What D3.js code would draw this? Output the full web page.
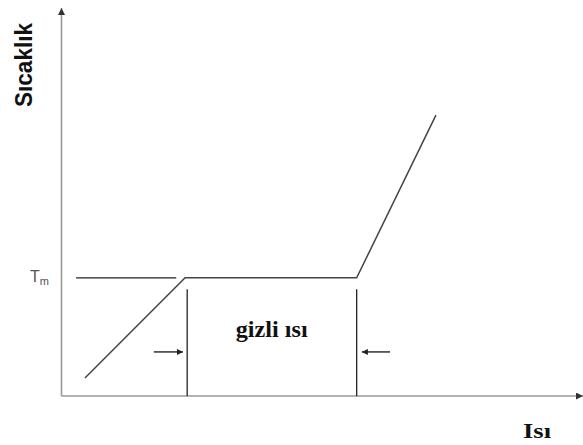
<!DOCTYPE html>
<html>
<head>
<meta charset="utf-8">
<script src="https://cdn.jsdelivr.net/npm/d3@7"></script>
<style>
  html, body { margin: 0; padding: 0; background: #fff; }
  svg { display: block; }
</style>
</head>
<body>
<svg id="chart" width="583" height="445"></svg>
<script>
// ---- data (abstract units: heat on x 0..100, temperature on y 0..100) ----
const curveHeat = [4.5, 23.7, 56.6, 71.8];
const curveTemp = [4.6, 30.3, 30.3, 72.0];
const tmLineHeat = [2.8, 22.0];
const tmValue = 30.3;
const latentBoundsHeat = [24.1, 56.6];
const latentLineTop = 27.4;
const arrowLeftHeat = [17.7, 23.3];
const arrowRightHeat = [63.0, 57.6];
const arrowTemp = 11.3;
const labels = { y: "Sıcaklık", x: "Isı", tm: "T", tmSub: "m", latent: "gizli ısı" };
const latentLabelPos = [40.3, 15.1];

const svg = d3.select("#chart");
const x = d3.scaleLinear().domain([0, 100]).range([61.5, 583]);
const y = d3.scaleLinear().domain([0, 100]).range([396, 6]);

const defs = svg.append("defs");
defs.append("marker").attr("id", "axisHead")
  .attr("viewBox", "0 0 10 10").attr("refX", 10).attr("refY", 5)
  .attr("markerUnits", "userSpaceOnUse").attr("markerWidth", 8).attr("markerHeight", 7)
  .attr("orient", "auto")
  .append("path").attr("d", "M0,0 L10,5 L0,10 Z").attr("fill", "#333");
defs.append("marker").attr("id", "smallHead")
  .attr("viewBox", "0 0 10 10").attr("refX", 10).attr("refY", 5)
  .attr("markerUnits", "userSpaceOnUse").attr("markerWidth", 9).attr("markerHeight", 6)
  .attr("orient", "auto")
  .append("path").attr("d", "M0,0 L10,5 L0,10 Z").attr("fill", "#222");

// axes
svg.append("line")
  .attr("x1", x(0)).attr("y1", y(0)).attr("x2", x(0)).attr("y2", y(100) + 2)
  .attr("stroke", "#999").attr("stroke-width", 1.6).attr("marker-end", "url(#axisHead)");
svg.append("line")
  .attr("x1", x(0)).attr("y1", y(0)).attr("x2", x(100)).attr("y2", y(0))
  .attr("stroke", "#999").attr("stroke-width", 1.6).attr("marker-end", "url(#axisHead)");

// Tm reference line
svg.append("line")
  .attr("x1", x(tmLineHeat[0])).attr("x2", x(tmLineHeat[1]))
  .attr("y1", y(tmValue)).attr("y2", y(tmValue))
  .attr("stroke", "#222").attr("stroke-width", 1.4);

// heating curve
const pts = curveHeat.map((h, i) => [h, curveTemp[i]]);
svg.append("path")
  .attr("d", d3.line().x(d => x(d[0])).y(d => y(d[1]))(pts))
  .attr("fill", "none").attr("stroke", "#444").attr("stroke-width", 1.5);

// latent heat bounds
latentBoundsHeat.forEach(h => {
  svg.append("line")
    .attr("x1", x(h)).attr("x2", x(h))
    .attr("y1", y(latentLineTop)).attr("y2", y(0))
    .attr("stroke", "#222").attr("stroke-width", 1.3);
});

// arrows
[arrowLeftHeat, arrowRightHeat].forEach(a => {
  svg.append("line")
    .attr("x1", x(a[0])).attr("x2", x(a[1]))
    .attr("y1", y(arrowTemp)).attr("y2", y(arrowTemp))
    .attr("stroke", "#222").attr("stroke-width", 1.4).attr("marker-end", "url(#smallHead)");
});

// labels
svg.append("text")
  .attr("transform", `translate(32,65) rotate(-90)`)
  .attr("text-anchor", "middle")
  .attr("font-family", "Liberation Sans, Arial, sans-serif")
  .attr("font-weight", "bold").attr("font-size", 23)
  .attr("textLength", 84).attr("lengthAdjust", "spacingAndGlyphs")
  .attr("fill", "#111")
  .text(labels.y);

svg.append("text")
  .attr("x", 537).attr("y", 438)
  .attr("text-anchor", "middle")
  .attr("font-family", "Liberation Serif, Times New Roman, serif")
  .attr("font-weight", "bold").attr("font-size", 20)
  .attr("textLength", 28).attr("lengthAdjust", "spacingAndGlyphs")
  .attr("fill", "#111")
  .text(labels.x);

const tm = svg.append("text")
  .attr("x", 30).attr("y", y(tmValue) + 4)
  .attr("font-family", "Liberation Sans, Arial, sans-serif")
  .attr("font-size", 16).attr("fill", "#555");
tm.append("tspan").text(labels.tm);
tm.append("tspan").attr("font-size", 11).attr("dy", 3).text(labels.tmSub);

svg.append("text")
  .attr("x", x(latentLabelPos[0])).attr("y", y(latentLabelPos[1]))
  .attr("text-anchor", "middle")
  .attr("font-family", "Liberation Serif, Times New Roman, serif")
  .attr("font-weight", "bold").attr("font-size", 23)
  .attr("textLength", 72).attr("lengthAdjust", "spacingAndGlyphs")
  .attr("fill", "#111")
  .text(labels.latent);
</script>
</body>
</html>
